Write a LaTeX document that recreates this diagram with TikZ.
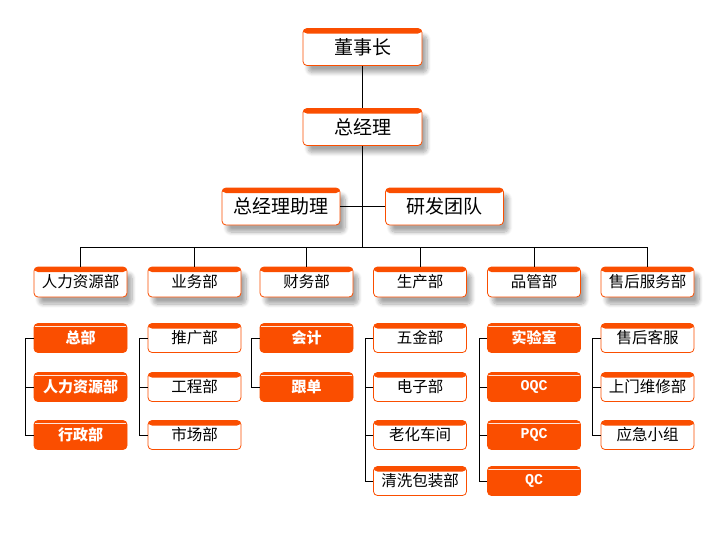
\documentclass[tikz,border=0pt]{standalone}
\usepackage{fontspec}
\setmainfont{Noto Sans CJK SC}
\setmonofont{Liberation Mono}
\usetikzlibrary{shadows.blur}
\definecolor{boxorange}{RGB}{250,78,0}
\tikzset{
  plainbox/.style={draw=boxorange, line width=0.8pt, fill=white, rounded corners=4pt,
    inner sep=0pt, text=black,
    path picture={\fill[boxorange] ([yshift=-5pt]path picture bounding box.north west)
      rectangle (path picture bounding box.north east);}},
  fullbox/.style={draw=boxorange, line width=0.8pt, fill=boxorange, rounded corners=4pt,
    inner sep=0pt, text=white, font=\fontsize{15}{15}\selectfont\bfseries,
    path picture={\draw[white, line width=0.7pt, opacity=0.85]
      ([yshift=-2.5pt]path picture bounding box.north west) --
      ([yshift=-2.5pt]path picture bounding box.north east);}},
  shade/.style={blur shadow={shadow xshift=5pt, shadow yshift=-7pt,
    shadow blur steps=8, shadow blur radius=4pt, shadow opacity=35}},
  topbox/.style={plainbox, shade, minimum width=119pt, minimum height=37pt,
    font=\fontsize{19}{19}\selectfont},
  deptbox/.style={plainbox, shade, minimum width=93pt, minimum height=30pt,
    font=\fontsize{15.5}{15.5}\selectfont},
  subbox/.style={plainbox, minimum width=93pt, minimum height=29pt,
    font=\fontsize{15.5}{15.5}\selectfont},
  hotbox/.style={fullbox, minimum width=93pt, minimum height=29pt},
  link/.style={draw=black, line width=0.8pt}
}
\begin{document}
\begin{tikzpicture}[x=1pt, y=-1pt]
\useasboundingbox (0,0) rectangle (725,550);
% top of the chart
\node[topbox] (ceo) at (362.5,47) {董事长};
\node[topbox] (gm) at (362.5,127) {总经理};
\node[topbox, minimum width=118pt] (asst) at (281,206.5) {总经理助理};
\node[topbox, minimum width=118pt] (rd) at (444.5,206.5) {研发团队};
% departments
\node[deptbox] (hr) at (80.5,282) {人力资源部};
\node[deptbox] (biz) at (194.5,282) {业务部};
\node[deptbox] (fin) at (306.5,282) {财务部};
\node[deptbox] (prod) at (420,282) {生产部};
\node[deptbox] (qa) at (534,282) {品管部};
\node[deptbox] (svc) at (647.5,282) {售后服务部};
% sections
\node[hotbox] (hr1) at (80.5,338) {总部};
\node[hotbox] (hr2) at (80.5,387) {人力资源部};
\node[hotbox] (hr3) at (80.5,435) {行政部};
\node[subbox] (biz1) at (194.5,338) {推广部};
\node[subbox] (biz2) at (194.5,387) {工程部};
\node[subbox] (biz3) at (194.5,435) {市场部};
\node[hotbox] (fin1) at (306.5,338) {会计};
\node[hotbox] (fin2) at (306.5,387) {跟单};
\node[subbox] (prod1) at (420,338) {五金部};
\node[subbox] (prod2) at (420,387) {电子部};
\node[subbox] (prod3) at (420,435) {老化车间};
\node[subbox] (prod4) at (420,481) {清洗包装部};
\node[hotbox] (qa1) at (534,338) {实验室};
\node[hotbox] (qa2) at (534,387) {\ttfamily\bfseries OQC};
\node[hotbox] (qa3) at (534,435) {\ttfamily\bfseries PQC};
\node[hotbox] (qa4) at (534,481) {\ttfamily\bfseries QC};
\node[subbox] (svc1) at (647.5,338) {售后客服};
\node[subbox] (svc2) at (647.5,387) {上门维修部};
\node[subbox] (svc3) at (647.5,435) {应急小组};
% connectors
\coordinate (bus) at (362.5,247);
\draw[link] (ceo.south) -- (gm.north);
\draw[link] (gm.south) -- (bus);
\draw[link] (asst.east) -- (rd.west);
\draw[link] (hr.north) -- (hr.north |- bus) -- (svc.north |- bus) -- (svc.north);
\draw[link] (biz.north) -- (biz.north |- bus);
\draw[link] (fin.north) -- (fin.north |- bus);
\draw[link] (prod.north) -- (prod.north |- bus);
\draw[link] (qa.north) -- (qa.north |- bus);
% brackets
\draw[link] (hr1.west) -- ++(-8,0) |- (hr3.west);
\draw[link] (hr2.west) -- ++(-8,0);
\draw[link] (biz1.west) -- ++(-8,0) |- (biz3.west);
\draw[link] (biz2.west) -- ++(-8,0);
\draw[link] (fin1.west) -- ++(-8,0) |- (fin2.west);
\draw[link] (prod1.west) -- ++(-8,0) |- (prod4.west);
\draw[link] (prod2.west) -- ++(-8,0);
\draw[link] (prod3.west) -- ++(-8,0);
\draw[link] (qa1.west) -- ++(-8,0) |- (qa4.west);
\draw[link] (qa2.west) -- ++(-8,0);
\draw[link] (qa3.west) -- ++(-8,0);
\draw[link] (svc1.west) -- ++(-8,0) |- (svc3.west);
\draw[link] (svc2.west) -- ++(-8,0);
\end{tikzpicture}
\end{document}
